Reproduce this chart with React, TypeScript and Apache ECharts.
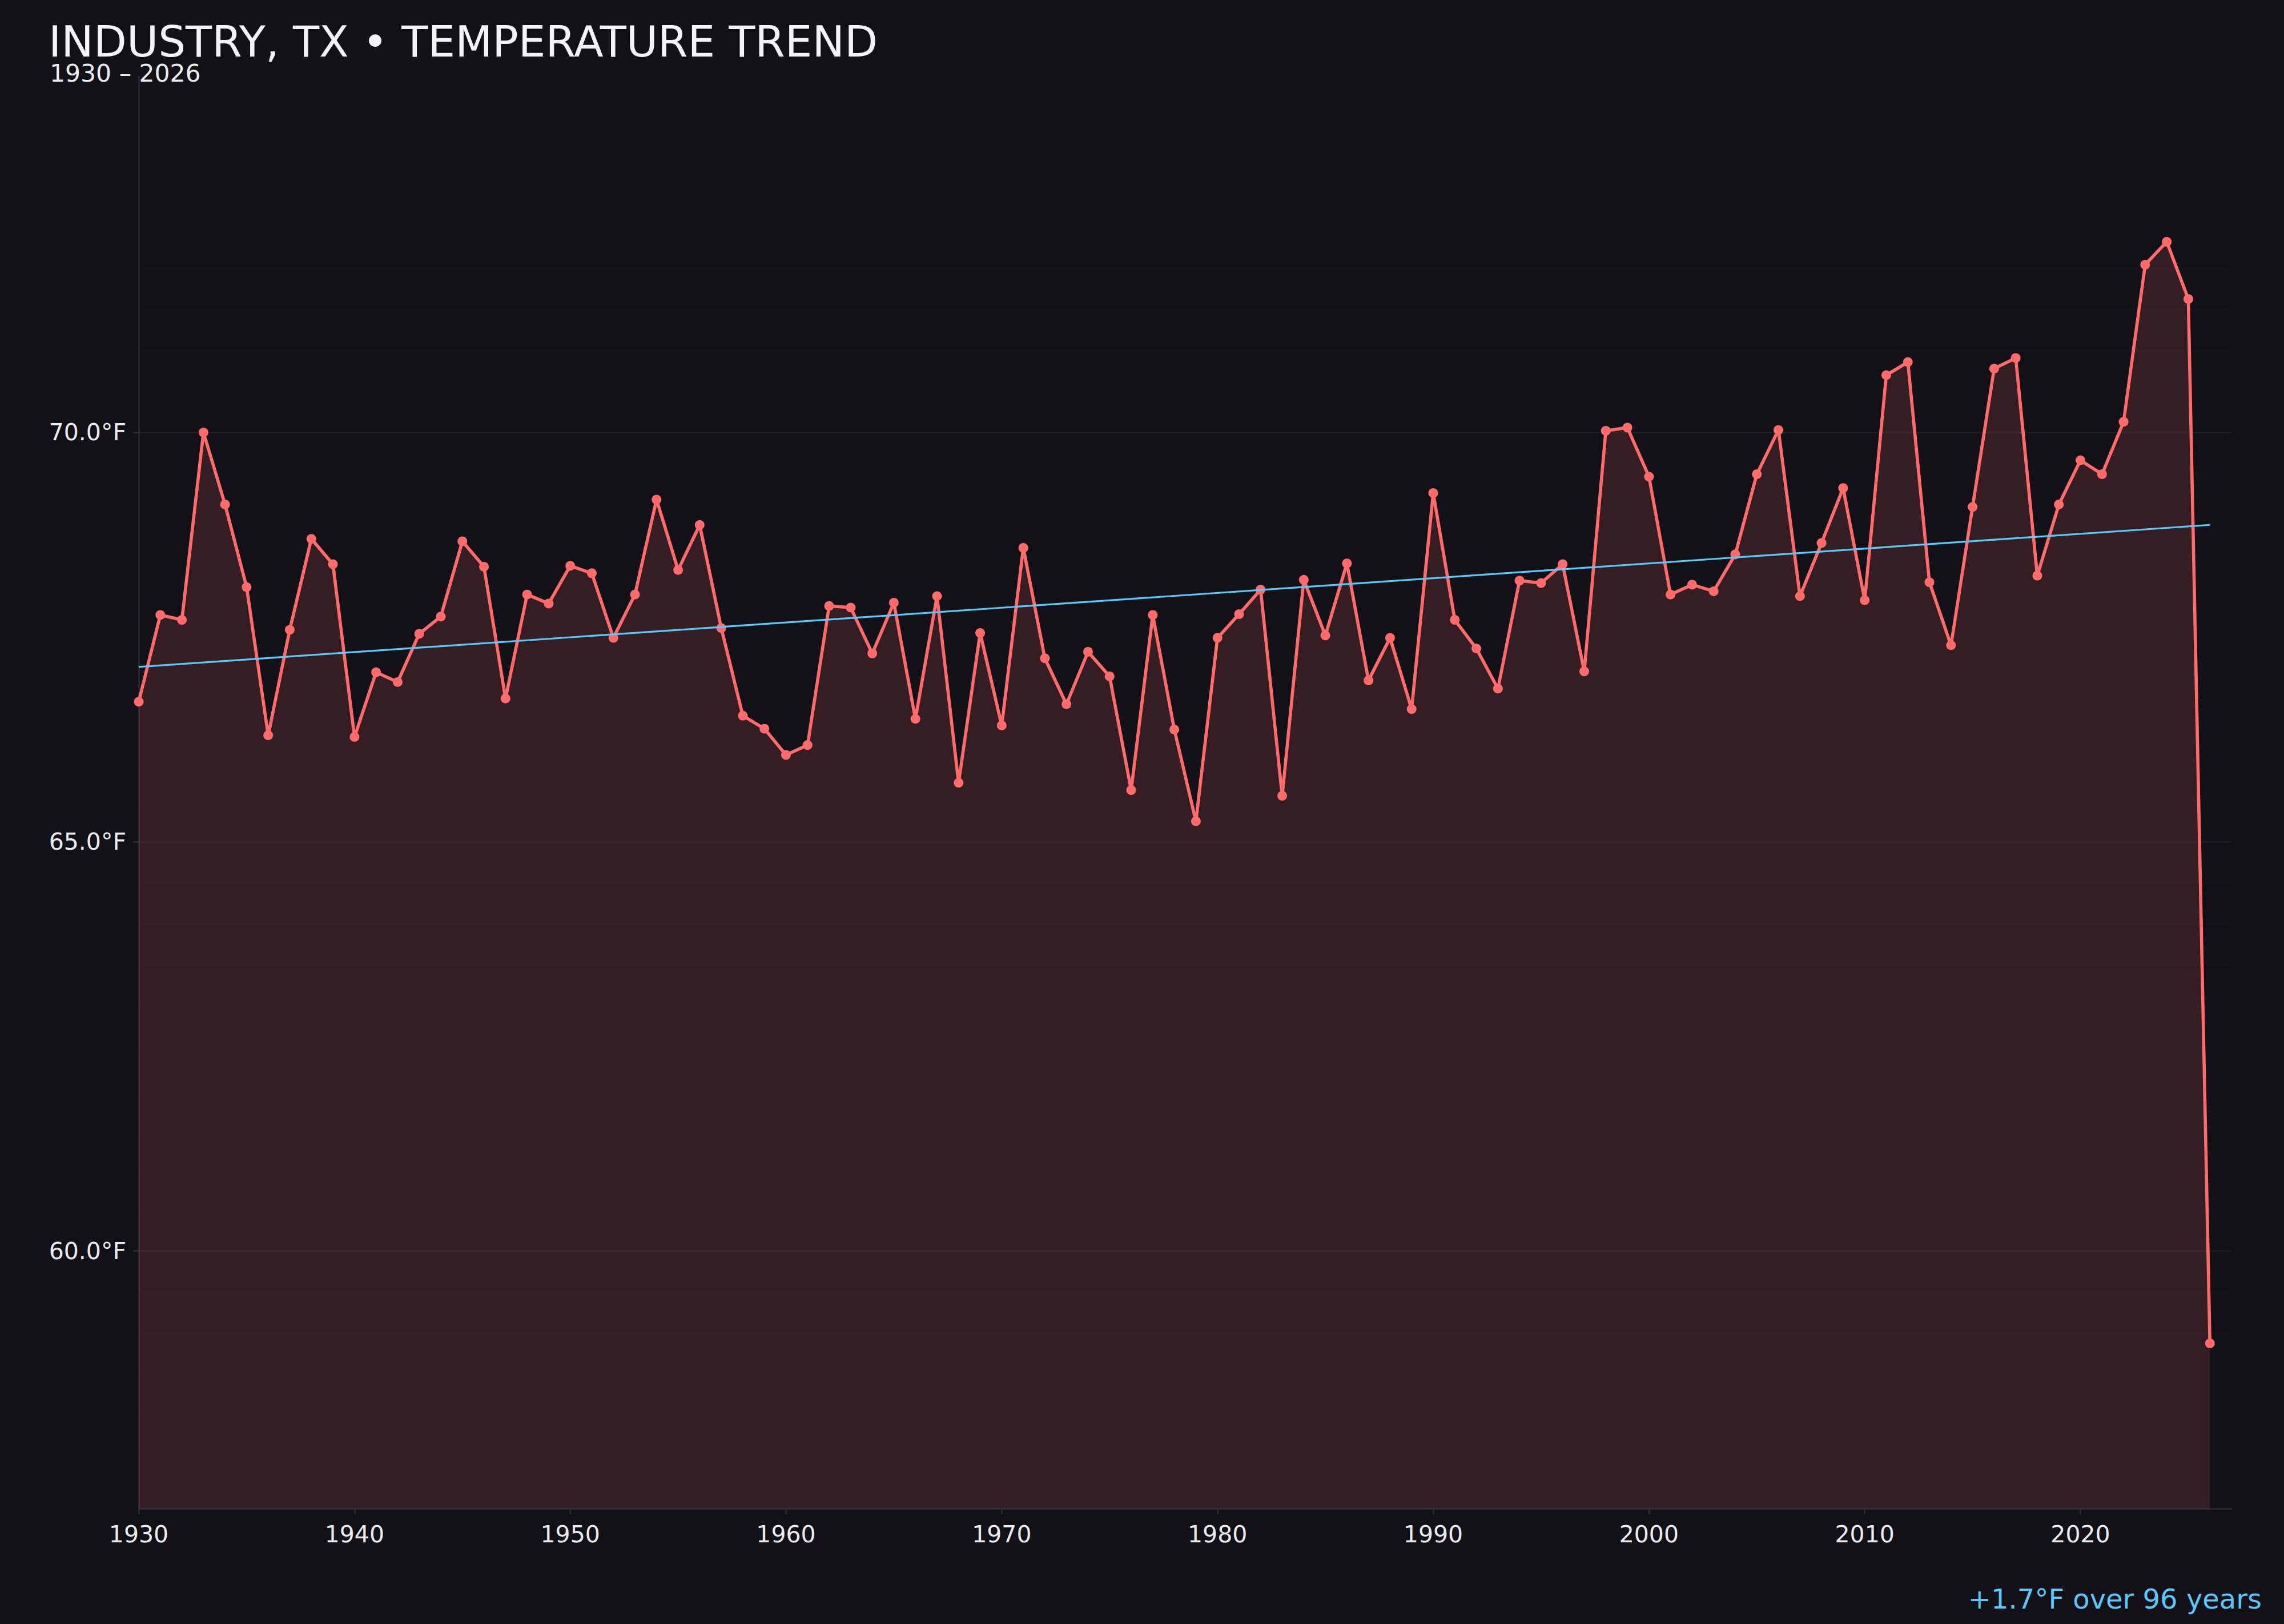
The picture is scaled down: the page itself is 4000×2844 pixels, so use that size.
import { useEffect, useRef } from "react";
import * as echarts from "echarts";

const FONT = "DejaVu Sans";
const BG = "#121117";
const LINE_RED = "#ff6b6b";
const TREND_BLUE = "#5ac8fa";
const AXIS_GREY = "#2e2e38";
const LABEL_GREY = "#ececf0";

const FIRST_YEAR = 1930;

// annual mean temperature, °F, one array per decade
const temps1930s = [66.71, 67.77, 67.71, 70.0, 69.12, 68.11, 66.3, 67.59, 68.7, 68.39];
const temps1940s = [66.28, 67.07, 66.95, 67.54, 67.75, 68.67, 68.36, 66.75, 68.02, 67.91];
const temps1950s = [68.37, 68.28, 67.49, 68.02, 69.18, 68.32, 68.87, 67.61, 66.54, 66.38];
const temps1960s = [66.06, 66.18, 67.88, 67.86, 67.3, 67.92, 66.5, 68.0, 65.72, 67.55];
const temps1970s = [66.42, 68.59, 67.24, 66.68, 67.32, 67.02, 65.63, 67.77, 66.37, 65.25];
const temps1980s = [67.49, 67.78, 68.08, 65.56, 68.2, 67.52, 68.4, 66.97, 67.49, 66.62];
const temps1990s = [69.26, 67.71, 67.36, 66.87, 68.19, 68.16, 68.39, 67.08, 70.02, 70.06];
const temps2000s = [69.46, 68.02, 68.14, 68.06, 68.51, 69.49, 70.03, 68.0, 68.65, 69.32];
const temps2010s = [67.95, 70.7, 70.86, 68.17, 67.4, 69.09, 70.78, 70.91, 68.25, 69.12];
const temps2020s = [69.66, 69.49, 70.13, 72.05, 72.33, 71.63, 58.87];

const annualTemps = [
  ...temps1930s,
  ...temps1940s,
  ...temps1950s,
  ...temps1960s,
  ...temps1970s,
  ...temps1980s,
  ...temps1990s,
  ...temps2000s,
  ...temps2010s,
  ...temps2020s,
];

function linearFit(points: number[][]) {
  const n = points.length;
  const mx = points.reduce((s, p) => s + p[0], 0) / n;
  const my = points.reduce((s, p) => s + p[1], 0) / n;
  let sxy = 0;
  let sxx = 0;
  points.forEach(([x, y]) => {
    sxy += (x - mx) * (y - my);
    sxx += (x - mx) * (x - mx);
  });
  const slope = sxy / sxx;
  return { slope, at: (x: number) => my + slope * (x - mx) };
}

export default function App() {
  const chartEl = useRef<HTMLDivElement | null>(null);

  useEffect(() => {
    document.body.style.margin = "0";
    const el = chartEl.current;
    if (!el) {
      return;
    }

    const chart = echarts.init(el, null, { renderer: "svg" });

    const points = annualTemps.map((t, i) => [FIRST_YEAR + i, t]);
    const lastYear = FIRST_YEAR + annualTemps.length - 1;
    const span = lastYear - FIRST_YEAR;
    const fit = linearFit(points);
    const change = fit.slope * span;

    const lo = Math.min(...annualTemps);
    const hi = Math.max(...annualTemps);
    const pad = (hi - lo) * 0.15;

    chart.setOption({
      animation: false,
      backgroundColor: BG,
      textStyle: { fontFamily: FONT },
      title: [
        {
          text: "INDUSTRY, TX • TEMPERATURE TREND",
          left: 85,
          top: 42,
          padding: 0,
          textStyle: {
            color: "#f4f4f7",
            fontSize: 75.5,
            lineHeight: 62,
            fontWeight: "normal",
            fontFamily: FONT,
          },
        },
        {
          text: `${FIRST_YEAR} – ${lastYear}`,
          left: 87,
          top: 110,
          padding: 0,
          textStyle: {
            color: LABEL_GREY,
            fontSize: 42.5,
            lineHeight: 36,
            fontWeight: "normal",
            fontFamily: FONT,
          },
        },
      ],
      grid: { left: 243, right: 92, top: 134, bottom: 202 },
      xAxis: {
        type: "value",
        min: FIRST_YEAR,
        max: lastYear + 1,
        interval: 10,
        axisLine: { lineStyle: { color: AXIS_GREY, width: 2.5 } },
        axisTick: { show: true, length: 10, lineStyle: { color: AXIS_GREY, width: 2.5 } },
        axisLabel: {
          color: LABEL_GREY,
          fontSize: 41,
          margin: 24,
          fontFamily: FONT,
          showMaxLabel: false,
          formatter: (v: number) => String(v),
        },
        splitLine: { show: false },
      },
      yAxis: {
        type: "value",
        min: lo - pad,
        max: hi + pad,
        splitNumber: 3,
        minInterval: 5,
        maxInterval: 5,
        axisLine: { show: true, lineStyle: { color: AXIS_GREY, width: 2.5 } },
        axisTick: { show: true, length: 10, lineStyle: { color: AXIS_GREY, width: 2.5 } },
        axisLabel: {
          color: LABEL_GREY,
          fontSize: 41,
          margin: 22,
          fontFamily: FONT,
          showMinLabel: false,
          showMaxLabel: false,
          formatter: (v: number) => `${v.toFixed(1)}°F`,
        },
        splitLine: {
          show: true,
          showMinLine: false,
          showMaxLine: false,
          lineStyle: { color: "rgba(255,255,255,0.05)", width: 2.5 },
        },
        minorTick: { show: false, splitNumber: 10 },
        minorSplitLine: {
          show: true,
          lineStyle: { color: "rgba(255,255,255,0.016)", width: 2.5 },
        },
      },
      graphic: [
        {
          type: "text",
          right: 39,
          bottom: 20,
          style: {
            text: `${change >= 0 ? "+" : ""}${change.toFixed(1)}°F over ${span} years`,
            fill: TREND_BLUE,
            fontSize: 48,
            fontFamily: FONT,
          },
        },
      ],
      series: [
        {
          type: "line",
          data: points,
          symbol: "circle",
          symbolSize: 17,
          showAllSymbol: true,
          itemStyle: { color: LINE_RED },
          lineStyle: { color: LINE_RED, width: 5.6 },
          areaStyle: { color: LINE_RED, opacity: 0.15, origin: "start" },
          z: 2,
        },
        {
          type: "line",
          data: [
            [FIRST_YEAR, fit.at(FIRST_YEAR)],
            [lastYear, fit.at(lastYear)],
          ],
          symbol: "none",
          lineStyle: { color: TREND_BLUE, width: 3.2 },
          z: 3,
        },
      ],
    });

    return () => {
      chart.dispose();
    };
  }, []);

  return (
    <div
      ref={chartEl}
      style={{ position: "fixed", left: 0, top: 0, width: "100vw", height: "100vh" }}
    />
  );
}
